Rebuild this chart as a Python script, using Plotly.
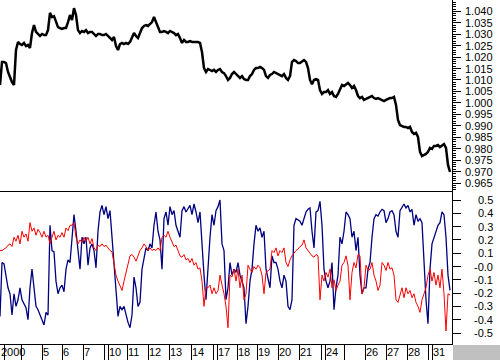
import plotly.graph_objects as go

# ---------------- data ----------------
price = [
    1.0078, 1.0179, 1.0179, 1.0174, 1.0135, 1.0109, 1.0091, 1.0078, 1.0231, 1.0266,
    1.0257, 1.0253, 1.0262, 1.0248, 1.0253, 1.0240, 1.0305, 1.0340, 1.0310, 1.0301,
    1.0292, 1.0301, 1.0296, 1.0296, 1.0318, 1.0393, 1.0375, 1.0379, 1.0353, 1.0331,
    1.0327, 1.0323, 1.0327, 1.0327, 1.0353, 1.0384, 1.0362, 1.0414, 1.0384, 1.0318,
    1.0305, 1.0314, 1.0310, 1.0318, 1.0305, 1.0310, 1.0310, 1.0301, 1.0292, 1.0301,
    1.0301, 1.0296, 1.0296, 1.0301, 1.0292, 1.0283, 1.0275, 1.0288, 1.0248, 1.0231,
    1.0257, 1.0262, 1.0257, 1.0262, 1.0257, 1.0266, 1.0283, 1.0305, 1.0292, 1.0283,
    1.0305, 1.0327, 1.0336, 1.0340, 1.0336, 1.0345, 1.0353, 1.0375, 1.0353, 1.0327,
    1.0310, 1.0310, 1.0314, 1.0310, 1.0305, 1.0314, 1.0310, 1.0305, 1.0296, 1.0301,
    1.0283, 1.0262, 1.0275, 1.0266, 1.0266, 1.0270, 1.0266, 1.0266, 1.0266, 1.0266,
    1.0262, 1.0222, 1.0152, 1.0135, 1.0148, 1.0144, 1.0139, 1.0144, 1.0135, 1.0144,
    1.0148, 1.0135, 1.0130, 1.0117, 1.0100, 1.0109, 1.0126, 1.0135, 1.0126, 1.0117,
    1.0109, 1.0117, 1.0104, 1.0100, 1.0100, 1.0117, 1.0126, 1.0144, 1.0152, 1.0152,
    1.0157, 1.0152, 1.0144, 1.0117, 1.0109, 1.0122, 1.0126, 1.0135, 1.0130, 1.0126,
    1.0122, 1.0117, 1.0126, 1.0109, 1.0100, 1.0117, 1.0179, 1.0187, 1.0183, 1.0174,
    1.0174, 1.0179, 1.0187, 1.0179, 1.0152, 1.0100, 1.0082, 1.0100, 1.0104, 1.0100,
    1.0056, 1.0039, 1.0047, 1.0047, 1.0056, 1.0039, 1.0047, 1.0030, 1.0026, 1.0039,
    1.0056, 1.0078, 1.0074, 1.0082, 1.0087, 1.0078, 1.0065, 1.0074, 1.0056, 1.0030,
    1.0021, 1.0026, 1.0013, 1.0017, 1.0021, 1.0026, 1.0030, 1.0021, 1.0017, 1.0021,
    1.0017, 1.0013, 1.0008, 1.0013, 1.0017, 1.0021, 1.0021, 1.0026, 0.9991, 0.9925,
    0.9903, 0.9899, 0.9895, 0.9895, 0.9890, 0.9895, 0.9873, 0.9864, 0.9869, 0.9851,
    0.9786, 0.9768, 0.9772, 0.9777, 0.9786, 0.9803, 0.9799, 0.9812, 0.9812, 0.9816,
    0.9807, 0.9812, 0.9820, 0.9803, 0.9729, 0.9698,
]

blue = [
    -0.375, 0.03, 0.02, -0.065, -0.16, -0.205, -0.365, -0.205, -0.30, -0.25,
    -0.16, -0.25, -0.28, -0.31, -0.40, -0.16, -0.02, -0.16, -0.30, -0.325,
    -0.365, -0.41, -0.44, -0.345, -0.365, 0.31, 0.12, 0.11, -0.11, -0.205,
    -0.16, -0.14, -0.19, -0.02, 0.05, 0.03, 0.22, 0.39, 0.265, 0.12,
    -0.02, 0.22, 0.17, 0.22, 0.01, 0.14, 0.17, 0.12, -0.01, 0.265,
    0.41, 0.46, 0.39, 0.45, 0.36, 0.42, 0.22, -0.02, -0.25, -0.375,
    -0.30, -0.325, -0.30, -0.365, -0.42, -0.46, -0.365, -0.08, -0.16, -0.30,
    -0.27, -0.02, 0.05, 0.14, 0.12, 0.17, 0.14, 0.31, 0.41, 0.265,
    0.20, -0.02, 0.36, 0.41, 0.31, 0.45, 0.39, 0.42, 0.31, 0.265,
    0.22, 0.42, 0.45, 0.41, 0.44, 0.46, 0.39, 0.47, 0.41, 0.33,
    0.41, 0.12, -0.065, -0.25, 0.03, 0.22, 0.39, 0.31, 0.42, 0.45,
    0.50, 0.17, 0.12, -0.25, -0.16, 0.03, -0.065, -0.02, -0.045, 0.03,
    -0.065, -0.11, -0.16, -0.43, -0.30, -0.11, -0.02, 0.17, 0.31, 0.265,
    0.29, 0.22, 0.265, -0.02, -0.08, -0.16, 0.08, 0.03, 0.03, -0.02,
    -0.11, -0.16, -0.065, -0.11, -0.30, -0.325, -0.25, 0.31, 0.36, 0.35,
    0.34, 0.31, 0.36, 0.41, 0.43, 0.44, 0.265, 0.14, 0.41, 0.42,
    0.49, 0.31, -0.02, -0.11, -0.16, -0.11, 0.03, -0.325, -0.16, -0.065,
    0.22, 0.17, 0.265, 0.41, 0.39, 0.36, 0.22, 0.265, 0.12, 0.22,
    -0.065, -0.205, -0.16, -0.16, -0.02, 0.03, 0.22, 0.36, 0.39, 0.38,
    0.41, 0.43, 0.42, 0.33, 0.36, 0.41, 0.42, 0.39, 0.265, 0.22,
    0.42, 0.45, 0.47, 0.44, 0.46, 0.41, 0.43, 0.31, 0.39, 0.34,
    0.36, 0.33, -0.02, -0.25, -0.43, -0.02, 0.17, 0.22, 0.265, 0.31,
    0.33, 0.41, 0.39, 0.22, -0.065, -0.18,
]

red = [
    0.12, 0.12, 0.13, 0.14, 0.16, 0.17, 0.15, 0.22, 0.19, 0.235,
    0.17, 0.265, 0.22, 0.245, 0.19, 0.33, 0.265, 0.29, 0.235, 0.28,
    0.255, 0.22, 0.265, 0.22, 0.235, 0.17, 0.22, 0.265, 0.20, 0.235,
    0.22, 0.255, 0.22, 0.29, 0.27, 0.31, 0.31, 0.33, 0.22, 0.17,
    0.20, 0.18, 0.22, 0.19, 0.22, 0.17, 0.21, 0.14, 0.12, 0.16,
    0.15, 0.17, 0.15, 0.16, 0.14, 0.12, 0.11, 0.01, -0.065, -0.11,
    -0.14, -0.18, -0.11, -0.045, 0.03, 0.08, 0.09, 0.07, 0.04, 0.08,
    0.12, 0.14, 0.17, 0.15, 0.12, 0.14, 0.12, 0.13, 0.12, 0.14,
    0.12, 0.22, 0.235, 0.22, 0.265, 0.22, 0.18, 0.15, 0.16, 0.12,
    0.08, 0.07, 0.09, 0.05, 0.06, 0.03, 0.06, 0.01, 0.03, -0.02,
    -0.01, -0.11, -0.30, -0.16, -0.16, -0.14, -0.205, -0.16, -0.205, -0.18,
    -0.065, -0.14, -0.205, -0.30, -0.46, -0.065, -0.08, -0.02, -0.11, -0.02,
    -0.16, -0.065, -0.25, -0.205, 0.01, -0.02, -0.045, 0.0, -0.02, 0.01,
    -0.01, -0.065, -0.205, -0.045, -0.03, -0.02, 0.12, 0.105, 0.14, 0.08,
    0.12, 0.105, 0.14, 0.03, 0.0, 0.05, 0.08, 0.105, 0.12, 0.13,
    0.15, 0.16, 0.20, 0.14, 0.12, 0.105, 0.08, 0.07, 0.09, 0.08,
    -0.25, -0.065, -0.11, -0.045, -0.08, -0.02, -0.16, -0.10, -0.18, -0.14,
    -0.11, 0.01, 0.03, 0.08, 0.01, -0.25, -0.045, 0.03, -0.01, 0.09,
    0.08, -0.205, -0.16, 0.01, -0.03, -0.02, 0.03, -0.065, -0.11, -0.18,
    -0.14, 0.03, 0.01, -0.03, 0.03, -0.02, -0.01, -0.065, -0.25, -0.27,
    -0.205, -0.16, -0.235, -0.16, -0.205, -0.18, -0.235, -0.205, -0.27, -0.30,
    -0.345, -0.25, -0.205, -0.16, -0.065, -0.02, -0.11, -0.045, -0.14, -0.065,
    -0.16, -0.02, -0.205, -0.485, -0.205, -0.215,
]

# session boundaries (in sample units) and the day labels that follow them
day_ticks = [2, 10.5, 21, 31, 41.5, 52, 54, 63.5, 74, 84.5, 95.5, 106.5, 108.5,
             118.5, 128.5, 139, 149.5, 160.5, 162.5, 172, 182.5, 193, 203.5, 214, 216]
day_labels = ["2000", "5", "6", "7", "10", "11", "12", "13", "14", "17", "18",
              "19", "20", "21", "24", "26", "27", "28", "31"]
day_label_pos = [0, 21, 31, 41.5, 54, 63.5, 74, 84.5, 95.5, 108.5, 118.5, 128.5,
                 139, 149.5, 162.5, 182.5, 193, 203.5, 216]

price_ticks = [1.040, 1.035, 1.030, 1.025, 1.020, 1.015, 1.010, 1.005, 1.000,
               0.995, 0.990, 0.985, 0.980, 0.975, 0.970, 0.965]
osc_ticks = [0.5, 0.4, 0.3, 0.2, 0.1, 0.0, -0.1, -0.2, -0.3, -0.4, -0.5]
osc_tick_text = ["0.5", "0.4", "0.3", "0.2", "0.1", "-0.0", "-0.1", "-0.2",
                 "-0.3", "-0.4", "-0.5"]

# ---------------- figure ----------------
W, H = 500, 360
ML, MR, MT, MB = 0, 48, 0, 16
PW, PH = W - ML - MR, H - MT - MB
split = (344 - 191) / PH
sep_y = (344 - 191.5) / PH

samples = list(range(len(price)))
FONT = dict(family="Arial, Liberation Sans, sans-serif", size=11, color="black")

fig = go.Figure()
fig.add_trace(go.Scatter(x=samples, y=price, mode="lines", xaxis="x", yaxis="y",
                         line=dict(color="black", width=2.5), hoverinfo="skip"))
fig.add_trace(go.Scatter(x=samples, y=blue, mode="lines", xaxis="x", yaxis="y2",
                         line=dict(color="#000080", width=1.3), hoverinfo="skip"))
fig.add_trace(go.Scatter(x=samples, y=red, mode="lines", xaxis="x", yaxis="y2",
                         line=dict(color="#ff0000", width=1), hoverinfo="skip"))

annotations = []
for lab, pos in zip(day_labels, day_label_pos):
    annotations.append(dict(x=pos + 0.2, xref="x", y=-8 / PH, yref="paper",
                            text=lab, showarrow=False, xanchor="left",
                            yanchor="middle", font=FONT, borderpad=0))
for v in price_ticks:
    annotations.append(dict(x=494 / PW, xref="paper", y=v, yref="y",
                            text=f"{v:.3f}", showarrow=False, xanchor="right",
                            yanchor="middle", font=FONT, borderpad=0))
for v, t in zip(osc_ticks, osc_tick_text):
    annotations.append(dict(x=494 / PW, xref="paper", y=v, yref="y2",
                            text=t, showarrow=False, xanchor="right",
                            yanchor="middle", font=FONT, borderpad=0))

shapes = [
    # panel separator
    dict(type="line", xref="paper", yref="paper", x0=0, x1=1, y0=sep_y, y1=sep_y,
         line=dict(color="black", width=1)),
    # grey corner box
    dict(type="rect", xref="paper", yref="paper", x0=1.0 + 1 / PW, x1=W / PW,
         y0=-MB / PH, y1=-1 / PH, fillcolor="#c0c0c0", line=dict(width=0)),
]

fig.update_layout(
    width=W, height=H,
    margin=dict(l=ML, r=MR, t=MT, b=MB, pad=0),
    paper_bgcolor="white", plot_bgcolor="white",
    showlegend=False,
    font=FONT,
    hovermode=False,
    xaxis=dict(range=[0, 226], domain=[0, 1], anchor="y2",
               showgrid=False, zeroline=False, showline=True, linecolor="black",
               linewidth=1, ticks="outside", tickvals=day_ticks, ticklen=16,
               tickcolor="black", tickwidth=1, showticklabels=False,
               fixedrange=True),
    yaxis=dict(domain=[split, 1], range=[0.96151, 1.04494], side="right",
               anchor="x", showgrid=False, zeroline=False, showline=True,
               linecolor="black", linewidth=1, ticks="outside", ticklen=8,
               tickcolor="black", tickwidth=1, tick0=0.965, dtick=0.005,
               showticklabels=False, fixedrange=True,
               minor=dict(ticks="outside", ticklen=3, dtick=0.001, tick0=0.965,
                          tickcolor="black", tickwidth=1)),
    yaxis2=dict(domain=[0, split], range=[-0.5827, 0.5677], side="right",
                anchor="x", showgrid=False, zeroline=False, showline=True,
                linecolor="black", linewidth=1, ticks="outside", ticklen=8,
                tickcolor="black", tickwidth=1, tickvals=osc_ticks,
                showticklabels=False, fixedrange=True),
    annotations=annotations,
    shapes=shapes,
)

fig.write_html(
    "out.html",
    config={"displayModeBar": False},
    post_script="document.body.style.margin='0px';document.body.style.overflow='hidden';",
)
